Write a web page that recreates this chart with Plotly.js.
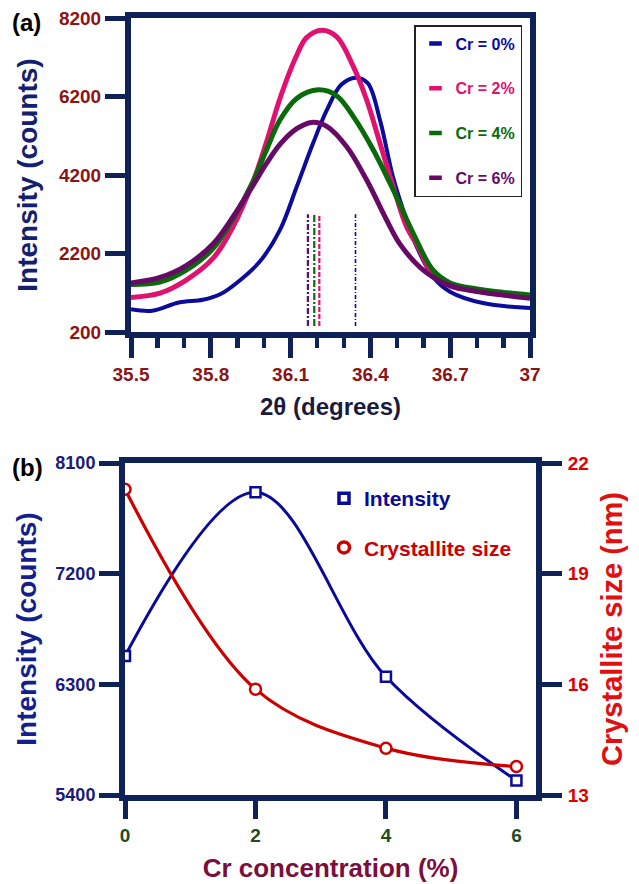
<!DOCTYPE html>
<html>
<head>
<meta charset="utf-8">
<script src="https://cdn.plot.ly/plotly-3.0.1.min.js"></script>
<style>html,body{margin:0;padding:0;background:#fff;}#chart{width:639px;height:884px;}</style>
</head>
<body>
<div id="chart"></div>
<script>
// ---------- Panel (a): XRD peak ----------
const cr0X = [35.5, 35.58, 35.68, 35.77, 35.835, 35.91, 35.985, 36.06, 36.123, 36.184, 36.236, 36.29, 36.345, 36.39, 36.436, 36.485, 36.536, 36.574, 36.635, 36.699, 36.823, 37.0];
const cr0Y = [780, 742, 950, 1020, 1160, 1520, 2000, 2800, 3900, 5000, 5850, 6500, 6680, 6540, 5601, 4149, 3053, 2373, 1609, 1227, 937, 810];

const cr2X = [35.5, 35.609, 35.709, 35.809, 35.885, 35.96, 36.01, 36.06, 36.123, 36.16, 36.217, 36.273, 36.336, 36.386, 36.436, 36.486, 36.536, 36.579, 36.635, 36.7, 36.8, 36.9, 37.0];
const cr2Y = [1080, 1190, 1530, 2080, 2900, 4050, 5050, 6150, 7250, 7700, 7890, 7724, 6960, 6110, 5007, 3902, 2882, 2373, 1650, 1370, 1245, 1150, 1083];

const cr4X = [35.5, 35.609, 35.709, 35.809, 35.885, 35.96, 36.01, 36.06, 36.123, 36.204, 36.273, 36.336, 36.411, 36.486, 36.561, 36.635, 36.7, 36.8, 36.9, 37.0];
const cr4Y = [1410, 1470, 1780, 2330, 3100, 4050, 4850, 5600, 6150, 6370, 6220, 5687, 4837, 3817, 2714, 1780, 1450, 1295, 1210, 1142];

const cr6X = [35.5, 35.609, 35.709, 35.809, 35.885, 35.96, 36.01, 36.06, 36.123, 36.179, 36.236, 36.311, 36.386, 36.461, 36.51, 36.586, 36.635, 36.7, 36.8, 36.9, 37.0];
const cr6Y = [1450, 1590, 1900, 2450, 3150, 3950, 4500, 4980, 5380, 5540, 5440, 4921, 4072, 3053, 2450, 1850, 1600, 1380, 1230, 1140, 1060];

const peakNames = ["Cr = 0%", "Cr = 2%", "Cr = 4%", "Cr = 6%"];
const peakPos = [36.344, 36.208, 36.189, 36.165];
const peakLineY = [350, 3200];

const xTicksA = [35.5, 35.8, 36.1, 36.4, 36.7, 37];
const xTickTextA = ["35.5", "35.8", "36.1", "36.4", "36.7", "37"];
const yTicksA = [200, 2200, 4200, 6200, 8200];

// ---------- Panel (b): trends ----------
const crConc = [0, 2, 4, 6];
const intensityB = [6530, 7862, 6362, 5518];
const crystSize = [21.29, 15.87, 14.27, 13.77];
const yTicksBL = [5400, 6300, 7200, 8100];
const yTicksBR = [13, 16, 19, 22];

// ---------- styles ----------
const FONT = "Liberation Sans, Arial, Helvetica, sans-serif";
const FRAME = "#0f2258";
const colors = ["#0b0b9c", "#e0116f", "#0a6a0a", "#660a66"];
const lineW = [4, 5, 5, 5];
const dashes = ["4px,2px,1px,2px", "5px,2px", "7px,2px,2px,2px", "6px,2px,2px,2px"];
const dashW = [1.6, 2.2, 2.2, 2.2];
const blueB = "#0a0a9a";
const redB = "#cc0000";

const W = 639, H = 884;
const px = v => v / W;
const py = v => 1 - v / H;
const b = s => "<b>" + s + "</b>";

const seriesX = [cr0X, cr2X, cr4X, cr6X];
const seriesY = [cr0Y, cr2Y, cr4Y, cr6Y];

const traces = [];
for (let i = 0; i < 4; i++) {
  traces.push({
    x: seriesX[i], y: seriesY[i], xaxis: "x", yaxis: "y",
    type: "scatter", mode: "lines",
    line: {color: colors[i], width: lineW[i], shape: "spline", smoothing: 1},
    showlegend: false, hoverinfo: "skip"
  });
}
for (let i = 0; i < 4; i++) {
  traces.push({
    x: [peakPos[i], peakPos[i]], y: peakLineY, xaxis: "x", yaxis: "y",
    type: "scatter", mode: "lines",
    line: {color: colors[i], width: dashW[i], dash: dashes[i]},
    showlegend: false, hoverinfo: "skip"
  });
}
for (let i = 0; i < 4; i++) {
  traces.push({
    x: [null], y: [null], xaxis: "x", yaxis: "y",
    type: "scatter", mode: "markers",
    name: '<span style="color:' + colors[i] + '">' + b(peakNames[i]) + '</span>',
    marker: {symbol: "line-ew", size: 9, line: {color: colors[i], width: 4.5}},
    legend: "legend", legendgroup: "g" + i, showlegend: true
  });
}
traces.push({
  x: crConc, y: intensityB, xaxis: "x2", yaxis: "y2",
  type: "scatter", mode: "lines+markers",
  line: {color: blueB, width: 3, shape: "spline", smoothing: 1},
  marker: {symbol: "square", size: 10, color: "#ffffff", line: {color: blueB, width: 2.5}},
  showlegend: false, hoverinfo: "skip"
});
traces.push({
  x: crConc, y: crystSize, xaxis: "x2", yaxis: "y3",
  type: "scatter", mode: "lines+markers",
  line: {color: redB, width: 3.2, shape: "spline", smoothing: 1},
  marker: {symbol: "circle", size: 11, color: "#ffffff", line: {color: redB, width: 2.5}},
  showlegend: false, hoverinfo: "skip"
});
traces.push({
  x: [null], y: [null], xaxis: "x2", yaxis: "y2", type: "scatter", mode: "markers",
  name: '<span style="color:' + blueB + '">' + b("Intensity") + '</span>',
  marker: {symbol: "square", size: 10, color: "#ffffff", line: {color: blueB, width: 3.5}},
  legend: "legend2", legendgroup: "b1", showlegend: true
});
traces.push({
  x: [null], y: [null], xaxis: "x2", yaxis: "y3", type: "scatter", mode: "markers",
  name: '<span style="color:' + redB + '">' + b("Crystallite size") + '</span>',
  marker: {symbol: "circle", size: 11, color: "#ffffff", line: {color: redB, width: 3.5}},
  legend: "legend2", legendgroup: "b2", showlegend: true
});

const bold = (size, color) => ({family: FONT, size: size, color: color, weight: "bold"});

const layout = {
  width: W, height: H,
  margin: {l: 0, r: 0, t: 0, b: 0},
  paper_bgcolor: "#ffffff", plot_bgcolor: "#ffffff",
  showlegend: true,
  xaxis: {
    domain: [px(131), px(530)], anchor: "y",
    range: [35.5, 37], tickmode: "array", tickvals: xTicksA, ticktext: xTickTextA.map(b),
    ticks: "outside", ticklen: 20, tickwidth: 5, tickcolor: FRAME,
    minor: {tick0: 35.5, dtick: 0.1, ticks: "outside", ticklen: 10, tickwidth: 4.5, tickcolor: FRAME, showgrid: false},
    showline: true, linewidth: 6, linecolor: FRAME, mirror: true,
    showgrid: false, zeroline: false,
    tickfont: bold(19, "#8b1414"),
    title: {text: b("2θ (degrees)"), font: bold(24, "#1a1a40"), standoff: 16},
    automargin: false, fixedrange: true
  },
  yaxis: {
    domain: [py(332), py(18)], anchor: "x",
    range: [200, 8200], tickmode: "array", tickvals: yTicksA, ticktext: yTicksA.map(v => b(String(v))),
    ticks: "outside", ticklen: 20, tickwidth: 5, tickcolor: FRAME,
    showline: true, linewidth: 6, linecolor: FRAME, mirror: true,
    showgrid: false, zeroline: false,
    tickfont: bold(19, "#8b1414"),
    title: {text: b("Intensity (counts)"), font: bold(28, "#14206e"), standoff: 15},
    automargin: false, fixedrange: true
  },
  xaxis2: {
    domain: [px(125), px(536)], anchor: "y2",
    range: [0, 6.3], tickmode: "array", tickvals: crConc, ticktext: crConc.map(v => b(String(v))),
    ticks: "outside", ticklen: 18, tickwidth: 5, tickcolor: FRAME,
    showline: true, linewidth: 6, linecolor: FRAME, mirror: true,
    showgrid: false, zeroline: false,
    tickfont: bold(19, "#1e4d1e"),
    title: {text: b("Cr concentration (%)"), font: bold(26, "#7a0f3c"), standoff: 16},
    automargin: false, fixedrange: true
  },
  yaxis2: {
    domain: [py(795), py(463)], anchor: "x2",
    range: [5400, 8100], tickmode: "array", tickvals: yTicksBL, ticktext: yTicksBL.map(v => b(String(v))),
    ticks: "outside", ticklen: 20, tickwidth: 5, tickcolor: FRAME,
    showline: true, linewidth: 6, linecolor: FRAME, mirror: true,
    showgrid: false, zeroline: false,
    tickfont: bold(18, "#1a1a7a"),
    title: {text: b("Intensity (counts)"), font: bold(28, "#141e8c"), standoff: 13},
    automargin: false, fixedrange: true
  },
  yaxis3: {
    domain: [py(795), py(463)], anchor: "x2", overlaying: "y2", side: "right",
    range: [13, 22], tickmode: "array", tickvals: yTicksBR, ticktext: yTicksBR.map(v => b(String(v))),
    ticks: "outside", ticklen: 20, tickwidth: 5, tickcolor: FRAME, ticklabelstandoff: 2,
    showline: true, linewidth: 6, linecolor: FRAME,
    showgrid: false, zeroline: false,
    tickfont: bold(19, "#e00000"),
    title: {text: b("Crystallite size (nm)"), font: bold(29, "#e01010"), standoff: 16},
    automargin: false, fixedrange: true
  },
  legend: {
    x: px(414), y: py(25), xanchor: "left", yanchor: "top",
    bgcolor: "#ffffff", bordercolor: "#222222", borderwidth: 1.5,
    font: bold(16, "#000"), tracegroupgap: 21, traceorder: "grouped",
    itemclick: false, itemdoubleclick: false
  },
  legend2: {
    x: px(324), y: py(478), xanchor: "left", yanchor: "top",
    bgcolor: "rgba(0,0,0,0)", borderwidth: 0,
    font: bold(21, "#000"), tracegroupgap: 19, traceorder: "grouped",
    itemclick: false, itemdoubleclick: false
  },
  annotations: [
    {text: b("(a)"), xref: "paper", yref: "paper", x: px(26), y: py(22), showarrow: false,
     xanchor: "center", yanchor: "middle", font: bold(24, "#000000")},
    {text: b("(b)"), xref: "paper", yref: "paper", x: px(27), y: py(467), showarrow: false,
     xanchor: "center", yanchor: "middle", font: bold(24, "#000000")}
  ]
};

Plotly.newPlot("chart", traces, layout, {displayModeBar: false, staticPlot: true});
</script>
</body>
</html>
